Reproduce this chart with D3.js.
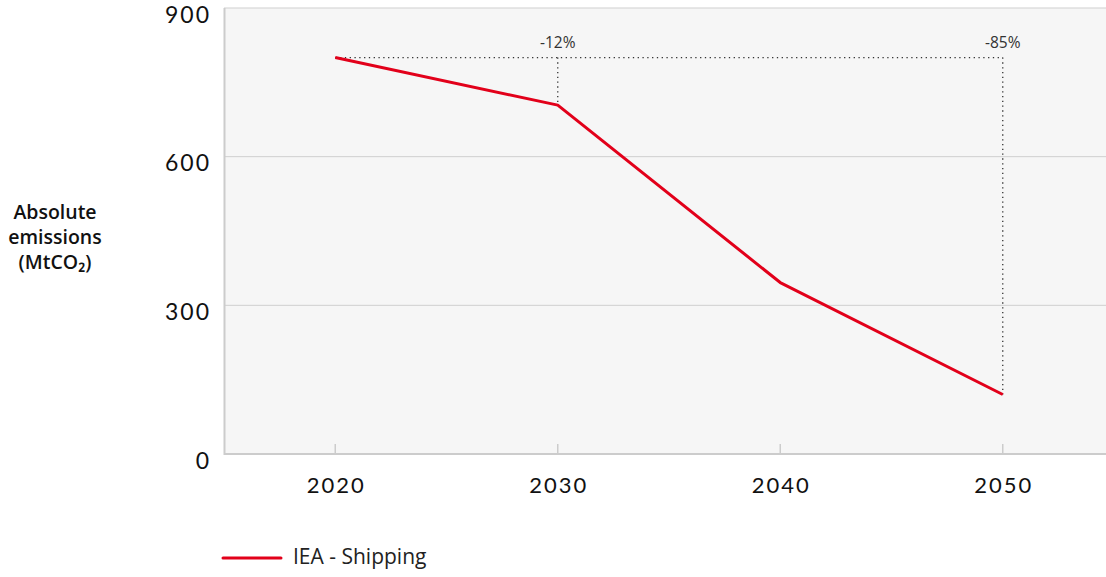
<!DOCTYPE html>
<html><head><meta charset="utf-8">
<script src="https://cdn.jsdelivr.net/npm/d3@7"></script>
<style>body{margin:0;background:#fff;overflow:hidden}svg{display:block}</style>
</head><body>
<svg id="chart" width="1106" height="577"></svg>
<script>
const years = [2020, 2030, 2040, 2050];
const emissions = [800, 704, 346, 120];
const yTicks = [0, 300, 600, 900];
const xTicks = [2020, 2030, 2040, 2050];
const annotations = [{year: 2030, label: "-12%"}, {year: 2050, label: "-85%"}];
const seriesName = "IEA - Shipping";

const svg = d3.select("#chart");
const x = d3.scaleLinear().domain([2015, 2055]).range([224, 1114]);
const y = d3.scaleLinear().domain([0, 900]).range([454, 8]);

svg.append("rect").attr("x", 224).attr("y", 8).attr("width", 900).attr("height", 446).attr("fill", "#f6f6f6");

// gridlines
svg.append("g").selectAll("line").data(yTicks.filter(d => d > 0)).join("line")
  .attr("x1", 224).attr("x2", 1106).attr("y1", d => y(d)).attr("y2", d => y(d))
  .attr("stroke", "#cfcfcf").attr("stroke-width", 1);
// left & bottom axis lines
svg.append("line").attr("x1", 224.5).attr("x2", 224.5).attr("y1", 8).attr("y2", 455).attr("stroke", "#cccccc").attr("stroke-width", 2);
svg.append("line").attr("x1", 224).attr("x2", 1106).attr("y1", 454).attr("y2", 454).attr("stroke", "#cccccc").attr("stroke-width", 2);

// x ticks inside
svg.append("g").selectAll("line").data(xTicks).join("line")
  .attr("x1", d => x(d)).attr("x2", d => x(d)).attr("y1", 444).attr("y2", 454)
  .attr("stroke", "#cccccc").attr("stroke-width", 1.5);

// y tick labels
svg.append("g").selectAll("text").data(yTicks).join("text")
  .attr("x", 211).attr("y", d => y(d) + 9).attr("text-anchor", "end").attr("dominant-baseline", "middle")
  .attr("font-family", "Lato, sans-serif").attr("font-size", 23).attr("fill", "#111").attr("letter-spacing", 2)
  .text(d => d);
// x tick labels
svg.append("g").selectAll("text").data(xTicks).join("text")
  .attr("x", d => x(d) + 1).attr("y", 487).attr("text-anchor", "middle").attr("dominant-baseline", "middle")
  .attr("font-family", "Lato, sans-serif").attr("font-size", 22).attr("fill", "#111").attr("letter-spacing", 2)
  .text(d => d);

// y axis label
const yl = svg.append("text").attr("text-anchor", "middle").attr("font-family", "'Open Sans', sans-serif")
  .attr("font-size", 19.5).attr("font-weight", 600).attr("fill", "#111");
["Absolute", "emissions", "(MtCO\u2082)"].forEach((t, i) =>
  yl.append("tspan").attr("x", 55).attr("y", 219 + i * 25).text(t));

// dotted reference lines
const base = emissions[0];
svg.append("line").attr("x1", x(years[0])).attr("x2", x(2050)).attr("y1", y(base)).attr("y2", y(base))
  .attr("stroke", "#333").attr("stroke-width", 1.3).attr("stroke-dasharray", "1.3,3.5");
annotations.forEach(a => {
  const v = emissions[years.indexOf(a.year)];
  svg.append("line").attr("x1", x(a.year)).attr("x2", x(a.year)).attr("y1", y(base)).attr("y2", y(v))
    .attr("stroke", "#333").attr("stroke-width", 1.3).attr("stroke-dasharray", "1.3,3.5");
  svg.append("text").attr("x", x(a.year)).attr("y", y(base) - 14).attr("text-anchor", "middle")
    .attr("dominant-baseline", "middle").attr("font-family", "'Open Sans', sans-serif").attr("font-size", 15.5)
    .attr("fill", "#333").text(a.label);
});

// line
const line = d3.line().x((d, i) => x(years[i])).y(d => y(d));
svg.append("path").datum(emissions).attr("d", line).attr("fill", "none")
  .attr("stroke", "#e2001a").attr("stroke-width", 3).attr("stroke-linejoin", "round");

// legend
svg.append("line").attr("x1", 223).attr("x2", 281).attr("y1", 558).attr("y2", 558)
  .attr("stroke", "#e2001a").attr("stroke-width", 3).attr("stroke-linecap", "round");
svg.append("text").attr("x", 293).attr("y", 558).attr("dominant-baseline", "middle")
  .attr("font-family", "'Open Sans', sans-serif").attr("font-size", 21).attr("font-weight", 500).attr("fill", "#222")
  .text(seriesName);
</script>
</body></html>
